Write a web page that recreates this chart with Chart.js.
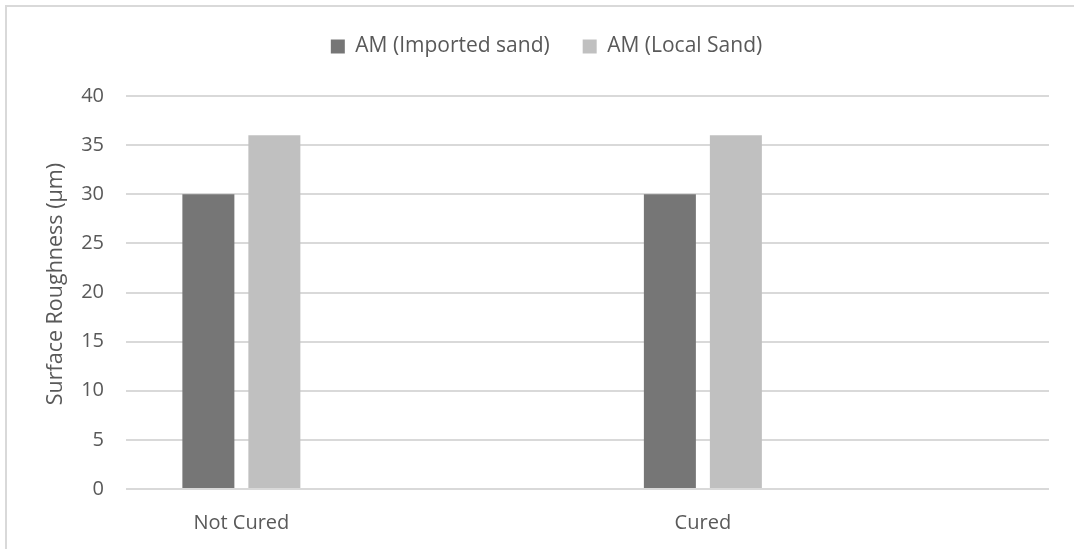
<!DOCTYPE html>
<html>
<head>
<meta charset="utf-8">
<script src="https://cdn.jsdelivr.net/npm/chart.js@4/dist/chart.umd.min.js"></script>
<style>
  html, body { margin: 0; padding: 0; background: #fff; }
  #wrap { width: 1074px; height: 549px; position: relative; }
</style>
</head>
<body>
<div id="wrap"><canvas id="c" width="1074" height="549"></canvas></div>
<script>
// Categories (two spacer slots keep Excel-like spacing)
const categories = ['Not Cured', '', 'Cured', ''];
const importedSand = [30, null, 30, null];
const localSand = [36, null, 36, null];
const yTicks = [0, 5, 10, 15, 20, 25, 30, 35, 40];

const TEXT = '#595959';
const FONT = "'Open Sans', 'Liberation Sans', sans-serif";
const FS = 20;

// Thin frame around the chart (top and left edges visible)
const framePlugin = {
  id: 'frame',
  beforeDraw(chart) {
    const ctx = chart.ctx;
    ctx.save();
    ctx.strokeStyle = '#d9d9d9';
    ctx.lineWidth = 2;
    ctx.beginPath();
    ctx.moveTo(6, chart.height + 5);
    ctx.lineTo(6, 6);
    ctx.lineTo(chart.width + 5, 6);
    ctx.stroke();
    ctx.restore();
  }
};

// Extra space under the legend, and a small shift to the right
const legendGapPlugin = {
  id: 'legendGap',
  afterInit(chart) {
    const legend = chart.legend;
    const fit = legend.fit;
    legend.fit = function () {
      fit.call(this);
      this.height += 29;
    };
  },
  afterLayout(chart) {
    chart.legend.left += 19;
    chart.legend.right += 19;
  }
};

new Chart(document.getElementById('c'), {
  type: 'bar',
  data: {
    labels: categories,
    datasets: [
      { label: 'AM (Imported sand)', data: importedSand, backgroundColor: '#767676' },
      { label: 'AM (Local Sand)', data: localSand, backgroundColor: '#c0c0c0' }
    ]
  },
  options: {
    responsive: false,
    animation: false,
    devicePixelRatio: 1,
    layout: { padding: { left: 6, right: 25, top: 3, bottom: 0 } },
    datasets: { bar: { categoryPercentage: 0.572, barPercentage: 0.788 } },
    plugins: {
      legend: {
        position: 'top',
        labels: {
          color: TEXT,
          font: { family: FONT, size: 21 },
          boxWidth: 14,
          boxHeight: 14,
          padding: 33
        }
      },
      tooltip: { enabled: false }
    },
    scales: {
      x: {
        grid: { display: false },
        border: { display: false },
        ticks: { color: TEXT, font: { family: FONT, size: FS }, padding: 14, maxRotation: 0 },
        afterFit(s) { s.height = 60; }
      },
      y: {
        min: 0,
        max: 40,
        afterBuildTicks(s) { s.ticks = yTicks.map(v => ({ value: v })); },
        grid: { color: '#d9d9d9', lineWidth: 2, drawTicks: false },
        border: { display: false },
        ticks: { color: TEXT, font: { family: FONT, size: FS }, padding: 22 },
        title: {
          display: true,
          text: '   Surface Roughness (µm)',
          color: TEXT,
          font: { family: FONT, size: 21.5 },
          padding: { top: 37, bottom: 0 }
        },
        afterFit(s) { s.width = 120; }
      }
    }
  },
  plugins: [framePlugin, legendGapPlugin]
});
</script>
</body>
</html>
